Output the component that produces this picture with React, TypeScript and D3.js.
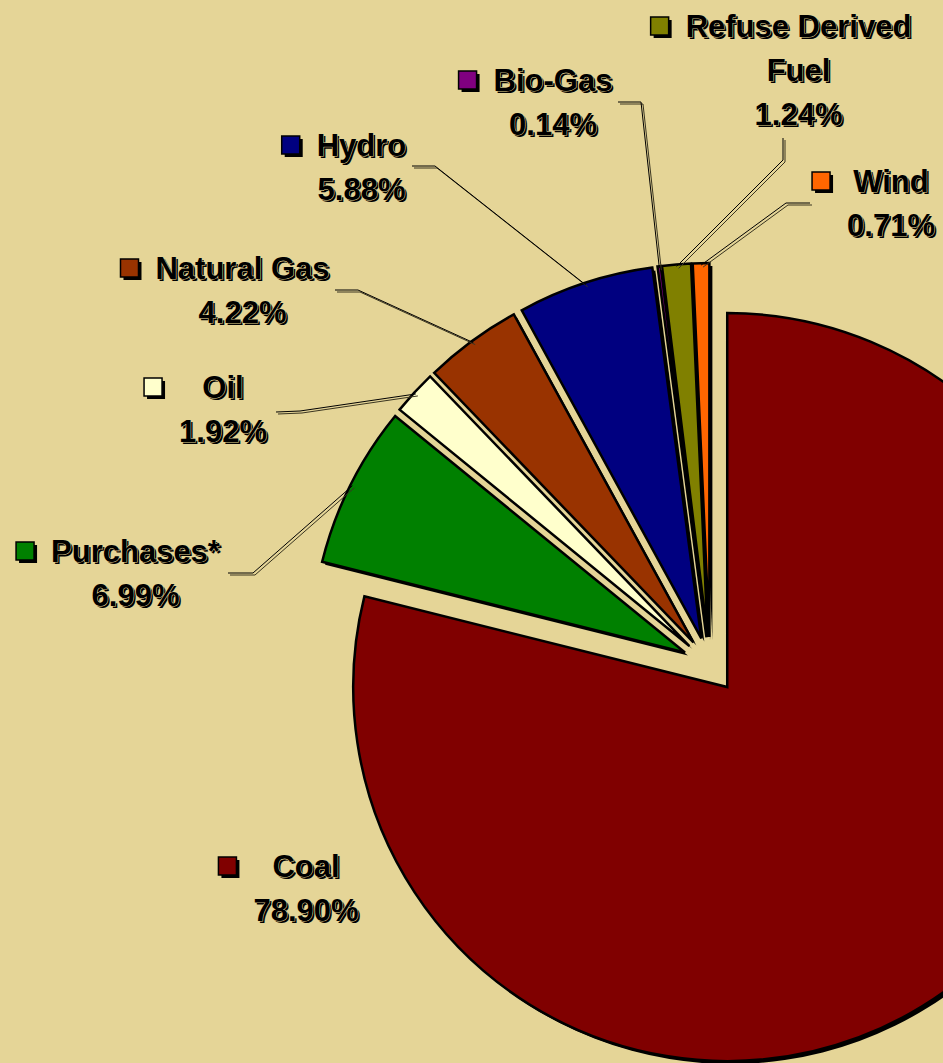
import * as d3 from "d3";
import { useEffect, useRef } from "react";

// fuel mix shares, in percent, clockwise from 12 o'clock
const categories = ["Coal", "Purchases*", "Oil", "Natural Gas", "Hydro", "Bio-Gas", "Refuse Derived Fuel", "Wind"];
const shares = [78.9, 6.99, 1.92, 4.22, 5.88, 0.14, 1.24, 0.71];
const sliceColors = ["#800000", "#008000", "#ffffcc", "#993300", "#000080", "#800080", "#808000", "#ff6600"];
const labelLines = [["Coal"], ["Purchases*"], ["Oil"], ["Natural Gas"], ["Hydro"], ["Bio-Gas"], ["Refuse Derived", "Fuel"], ["Wind"]];

const WIDTH = 943;
const HEIGHT = 1063;
const BG = "#e5d597";
const CX = 710;
const CY = 665;
const R = 374;
const EXPLODE = 28;
const FONT_SIZE = 31;
const LINE_H = 44;

// label block centre x / first line y (dragged by hand in the original)
const labelAnchors = [
  [306, 866],
  [135.5, 551],
  [223, 387],
  [242.5, 268],
  [361.5, 145],
  [553, 80],
  [798.5, 26],
  [891, 181],
];
// leader line start + elbow, the end is on the slice arc
const leaderPoints = [
  null,
  [[228, 573], [253, 573]],
  [[276, 412], [300, 411]],
  [[335, 290], [358, 290]],
  [[412, 166], [435, 166]],
  [[618, 102], [641, 102]],
  [[783, 138], [783, 160]],
  [[810, 203], [786, 203]],
];

export default function App() {
  const svgRef = useRef(null);

  useEffect(() => {
    document.body.style.margin = "0";
    const svg = d3.select(svgRef.current);
    svg.selectAll("*").remove();

    svg.append("rect").attr("width", WIDTH).attr("height", HEIGHT).attr("fill", BG);

    const pie = d3.pie().sort(null).value((d) => d)(shares);
    const arc = d3.arc().innerRadius(0).outerRadius(R);

    const offsetOf = (d, dist) => {
      const mid = (d.startAngle + d.endAngle) / 2;
      return [Math.sin(mid) * dist, -Math.cos(mid) * dist];
    };

    const slices = svg
      .append("g")
      .attr("class", "slices")
      .selectAll("g")
      .data(pie)
      .join("g")
      .attr("transform", (d) => {
        const [ox, oy] = offsetOf(d, EXPLODE);
        return `translate(${CX + ox},${CY + oy})`;
      });

    slices
      .append("path")
      .attr("d", arc)
      .attr("fill", "#000")
      .attr("transform", "translate(3,3)");

    slices
      .append("path")
      .attr("d", arc)
      .attr("fill", (d, i) => sliceColors[i])
      .attr("stroke", "#000")
      .attr("stroke-width", 2.5)
      .attr("stroke-linejoin", "miter");

    // leader lines
    const leaders = svg.append("g").attr("class", "leaders").attr("fill", "none");
    pie.forEach((d, i) => {
      if (!leaderPoints[i]) return;
      const [ex, ey] = offsetOf(d, EXPLODE);
      const [ax, ay] = offsetOf(d, R - 2);
      const pts = [...leaderPoints[i], [CX + ex + ax, CY + ey + ay]];
      const line = d3.line();
      leaders
        .append("path")
        .attr("d", line(pts))
        .attr("stroke", "#3a3520")
        .attr("stroke-width", 1)
        .attr("transform", "translate(2,2)");
      leaders.append("path").attr("d", line(pts)).attr("stroke", "#000").attr("stroke-width", 1);
    });

    // labels
    const fmt = d3.format(".2f");
    const labels = svg
      .append("g")
      .attr("class", "labels")
      .style("font-family", "'Liberation Sans', Arial, sans-serif")
      .style("font-weight", "bold")
      .style("font-size", `${FONT_SIZE}px`);

    categories.forEach((cat, i) => {
      const [lx, ly] = labelAnchors[i];
      const lines = [...labelLines[i], `${fmt(shares[i])}%`];
      const g = labels.append("g");
      const widths = [];
      lines.forEach((txt, j) => {
        g.append("text")
          .attr("x", lx + 2)
          .attr("y", ly + j * LINE_H + 2)
          .attr("text-anchor", "middle")
          .attr("dominant-baseline", "central")
          .attr("fill", "#000")
          .text(txt);
        const t = g
          .append("text")
          .attr("x", lx)
          .attr("y", ly + j * LINE_H)
          .attr("text-anchor", "middle")
          .attr("dominant-baseline", "central")
          .attr("fill", "#000")
          .attr("stroke", BG)
          .attr("stroke-width", 1.1)
          .style("paint-order", "stroke")
          .text(txt);
        widths.push(t.node().getComputedTextLength());
      });
      const left = lx - d3.max(widths) / 2;
      const size = 18;
      g.append("rect")
        .attr("x", left - 35 + 3)
        .attr("y", ly - size / 2 + 3)
        .attr("width", size)
        .attr("height", size)
        .attr("fill", "#000");
      g.append("rect")
        .attr("x", left - 35)
        .attr("y", ly - size / 2)
        .attr("width", size)
        .attr("height", size)
        .attr("fill", sliceColors[i])
        .attr("stroke", "#000")
        .attr("stroke-width", 1.5);
    });
  }, []);

  return (
    <svg
      ref={svgRef}
      width={WIDTH}
      height={HEIGHT}
      style={{ display: "block", position: "absolute", left: 0, top: 0 }}
    />
  );
}
